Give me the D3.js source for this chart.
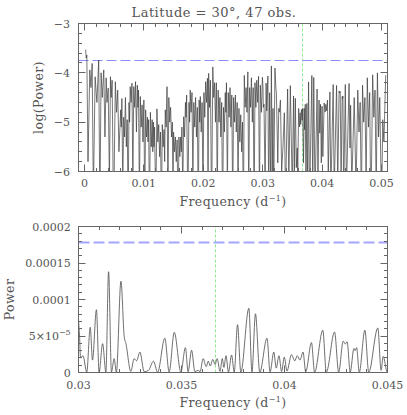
<!DOCTYPE html>
<html><head><meta charset="utf-8">
<script src="https://cdn.jsdelivr.net/npm/d3@7"></script>
<style>
body{margin:0;background:#fff}
text{font-family:"DejaVu Serif",serif;fill:#555}
</style>
</head><body>
<svg id="c" width="407" height="415"></svg>
<script>
// ---- data: [frequency (1/d), log10 power] read from the upper (log) panel, 0 - 0.03 d^-1
const lowBand = [
[0.0002,-3.53],[0.0003,-3.70],[0.0004,-3.64],[0.0006,-5.8],[0.0009,-3.94],[0.0011,-4.3],[0.0013,-3.81],[0.0015,-6.5],
[0.0018,-4.08],[0.0021,-4.6],[0.0024,-3.74],[0.0026,-6.8],[0.0028,-4.0],[0.0030,-4.5],[0.00325,-3.94],[0.00345,-5.3],
[0.00365,-4.1],[0.0038,-4.6],[0.0040,-4.31],[0.0042,-6.2],[0.00438,-4.08],[0.0045,-4.5],[0.00466,-4.15],[0.0049,-7.0],
[0.0052,-4.18],[0.0054,-4.8],[0.0056,-4.35],[0.0058,-5.6],[0.0061,-4.75],[0.0062,-5.1],[0.0063,-4.52],[0.00645,-6.4],
[0.0066,-4.9],[0.00675,-5.3],[0.0069,-4.5],[0.00705,-5.5],[0.0072,-4.95],[0.00735,-6.9],[0.0075,-4.6],[0.0076,-5.0],
[0.0077,-4.28],[0.00785,-4.6],[0.0080,-4.21],[0.00815,-6.3],[0.0083,-4.28],[0.00845,-4.7],[0.0086,-4.18],[0.00875,-5.2],
[0.0089,-4.25],[0.0090,-4.7],[0.0091,-4.35],[0.00925,-6.6],[0.0094,-4.48],[0.00955,-5.1],[0.0097,-4.65],[0.00985,-5.4],
[0.0100,-4.55],[0.01015,-6.8],[0.0103,-4.75],[0.01045,-5.3],[0.0106,-4.9],[0.0107,-5.4],[0.0108,-4.95],[0.01095,-7.0],
[0.0111,-4.8],[0.01125,-5.5],[0.0114,-4.95],[0.0115,-5.6],[0.0116,-5.0],[0.0117,-5.5],[0.0118,-5.1],[0.0120,-6.7],
[0.0122,-4.73],[0.01235,-5.4],[0.0125,-5.05],[0.01265,-5.7],[0.0128,-5.2],[0.01295,-6.9],[0.0131,-5.05],[0.01325,-5.5],
[0.0134,-5.15],[0.0135,-5.8],[0.0136,-4.75],[0.01375,-5.1],[0.0139,-4.28],[0.01405,-6.5],[0.0142,-4.5],[0.01435,-5.0],
[0.0145,-4.7],[0.01465,-5.3],[0.0148,-5.0],[0.0149,-6.6],[0.0150,-5.2],[0.01515,-5.6],[0.0153,-5.3],[0.01545,-5.8],
[0.0156,-5.36],[0.01575,-7.1],[0.0159,-5.3],[0.01605,-5.7],[0.0162,-5.3],[0.0163,-5.6],[0.0164,-5.1],[0.01655,-6.4],
[0.0167,-4.89],[0.01685,-5.3],[0.0170,-4.6],[0.0171,-4.9],[0.0172,-4.45],[0.0174,-6.8],[0.0176,-4.6],[0.0177,-5.0],
[0.0178,-4.35],[0.01795,-4.8],[0.0181,-4.4],[0.01825,-6.2],[0.0184,-4.6],[0.01855,-5.1],[0.0187,-4.5],[0.01885,-5.3],
[0.0190,-4.7],[0.01915,-7.0],[0.0193,-4.55],[0.0194,-5.0],[0.0195,-4.48],[0.01965,-5.2],[0.0198,-4.6],[0.01995,-6.5],
[0.0201,-4.4],[0.02025,-4.9],[0.0204,-4.18],[0.02055,-4.6],[0.0207,-4.11],[0.0208,-6.3],[0.0209,-4.01],[0.02105,-4.7],
[0.0212,-4.15],[0.0214,-6.9],[0.0216,-3.88],[0.02175,-4.5],[0.0219,-4.2],[0.02205,-5.0],[0.0222,-4.2],[0.02235,-6.6],
[0.0225,-4.35],[0.02265,-5.0],[0.0228,-4.5],[0.02295,-5.3],[0.0231,-4.6],[0.02325,-7.2],[0.0234,-4.7],[0.02355,-5.2],
[0.0237,-4.4],[0.0238,-4.8],[0.0239,-4.2],[0.02405,-6.4],[0.0242,-4.4],[0.02435,-4.9],[0.0245,-4.3],[0.02465,-5.1],
[0.0248,-4.45],[0.02495,-6.8],[0.0251,-4.5],[0.02525,-5.0],[0.0254,-4.45],[0.02555,-5.2],[0.0257,-4.6],[0.02585,-6.3],
[0.0260,-4.72],[0.02615,-5.4],[0.0263,-4.85],[0.02645,-5.6],[0.0266,-5.0],[0.02675,-7.0],[0.0269,-4.05],[0.02705,-4.7],
[0.0272,-4.3],[0.02735,-4.8],[0.0275,-3.98],[0.02765,-6.6],[0.0278,-4.3],[0.02795,-4.7],[0.0281,-4.1],[0.02825,-5.0],
[0.0284,-4.3],[0.02855,-6.9],[0.0287,-4.2],[0.02885,-4.7],[0.0290,-4.15],[0.02915,-4.6],[0.0293,-4.07],[0.02945,-6.5],
[0.0296,-4.25],[0.02978,-4.8],[0.02995,-4.09]
];
// ---- data: [frequency, power] read from the lower (linear) panel, 0.03 - 0.045 d^-1
const midBand = [
[0.03005,5.0e-5],[0.0301,2.0e-5],[0.03022,2.3e-5],[0.0304,4e-7],[0.03057,6.2e-5],[0.03068,1.7e-5],[0.03087,8.6e-5],
[0.0310,3e-7],[0.03117,3.95e-5],[0.03133,5e-7],[0.03146,1.38e-4],[0.0316,8e-7],[0.03173,1.9e-5],[0.03184,2e-7],
[0.03206,1.25e-4],[0.03222,4.9e-5],[0.0323,4.0e-5],[0.03254,1.5e-6],[0.0327,1.9e-5],[0.03282,1.6e-5],[0.03298,2.8e-5],
[0.03319,1e-6],[0.0334,3e-6],[0.03364,1.55e-5],[0.03384,3e-7],[0.03419,4.7e-5],[0.0344,6e-7],[0.03465,5.5e-5],
[0.03497,4e-7],[0.03519,3.4e-5],[0.03532,1e-6],[0.03549,3.05e-5],[0.03565,1.2e-6],[0.03581,3e-6],[0.0359,1e-6],
[0.03605,1.9e-5],[0.0362,8e-6],[0.0363,1.55e-5],[0.0364,9e-6],[0.03652,1.8e-5],[0.03663,1.1e-5],[0.03673,1.9e-5],
[0.03687,1.5e-6],[0.03698,1.9e-5],[0.03706,7e-6],[0.03716,2.3e-5],[0.03728,5e-7],[0.03743,2.4e-5],[0.03756,6e-7],
[0.03772,6.55e-5],[0.03788,2e-7],[0.03827,8.8e-5],[0.03842,4e-7],[0.03859,8.05e-5],[0.0388,3e-7],[0.03915,4.7e-5],
[0.0393,8e-7],[0.03948,2.8e-5],[0.0396,6e-6],[0.03973,2.3e-5],[0.03986,1.5e-6],[0.03999,2.1e-5],[0.04012,2e-6],
[0.04034,2.45e-5],[0.0405,1.6e-5],[0.04062,2.3e-5],[0.04075,1.7e-5],[0.0409,2.8e-5],[0.04103,8e-7],[0.04131,4.1e-5],
[0.04146,3e-7],[0.04186,5.8e-5],[0.04203,4e-7],[0.04243,5.55e-5],[0.04263,5e-7],[0.04285,4.3e-5],[0.04295,3.9e-5],
[0.04304,4.2e-5],[0.04319,6e-7],[0.04337,3.3e-5],[0.04343,3.0e-5],[0.0435,3.4e-5],[0.04363,3e-7],[0.0439,5.8e-5],
[0.04409,4e-7],[0.04453,6.1e-5],[0.04469,3e-6],[0.04479,2.2e-5],[0.04499,5e-7]
];
// ---- data: [frequency, log10 power], 0.045 - 0.051 d^-1
const highBand = [
[0.0454,-4.5],[0.0457,-6.4],[0.0460,-4.35],[0.0462,-5.2],[0.0464,-4.6],[0.0466,-6.7],[0.0468,-4.25],[0.0470,-5.0],
[0.0472,-4.5],[0.0474,-6.2],[0.0476,-4.1],[0.0478,-5.1],[0.0480,-4.4],[0.0482,-7.0],[0.0485,-4.04],[0.0487,-4.9],
[0.0489,-4.35],[0.0491,-6.5],[0.0493,-4.0],[0.0495,-5.3],[0.0497,-4.5],[0.0500,-6.8],[0.0502,-4.95],[0.0504,-5.4],
[0.0507,-4.05]
];
const falseAlarmPower = 1.78e-4;   // blue dashed level
const rotationFreq = 0.03666;      // green dashed line
const title = "Latitude = 30\u00b0, 47 obs.";
const topXTicks = [0,0.01,0.02,0.03,0.04,0.05];
const topXLabels = ["0","0.01","0.02","0.03","0.04","0.05"];
const topYTicks = [-3,-4,-5,-6];
const topYLabels = ["\u22123","\u22124","\u22125","\u22126"];
const botXTicks = [0.03,0.035,0.04,0.045];
const botXLabels = ["0.03","0.035","0.04","0.045"];
const botYTicks = [0,5e-5,1e-4,1.5e-4,2e-4];
const botYLabels = ["0","5\u00d710|\u22125","0.0001","0.00015","0.0002"];

const series = [
  ...lowBand.map(([f,L]) => ({f, p: Math.pow(10, L)})),
  ...midBand.map(([f,p]) => ({f, p})),
  ...highBand.map(([f,L]) => ({f, p: Math.pow(10, L)}))
];

const svg = d3.select("#c");
const L0 = 78.5, R0 = 387.5;
const topP = {x: d3.scaleLinear([-0.001,0.051],[L0,R0]), y: d3.scaleLinear([-6,-3],[171.5,23.5])};
const botP = {x: d3.scaleLinear([0.03,0.045],[L0,R0]), y: d3.scaleLinear([0,2e-4],[372.5,226.5])};
const snap = v => Math.round(v - 0.5) + 0.5;

const defs = svg.append("defs");
function clip(id, s){
  defs.append("clipPath").attr("id",id).append("rect")
    .attr("x",s.x.range()[0]).attr("y",s.y.range()[1])
    .attr("width",s.x.range()[1]-s.x.range()[0]).attr("height",s.y.range()[0]-s.y.range()[1]);
}
clip("ct",topP); clip("cb",botP);

function frame(s, xMaj, xMin, yMaj, yMin){
  const g = svg.append("g").attr("stroke","#666").attr("stroke-width",1).attr("fill","none");
  const [x0,x1] = s.x.range(), [y1,y0] = s.y.range();
  const M = 7, m = 3.5;
  xMin.forEach(v=>{const X=snap(s.x(v)); const l=xMaj.some(t=>Math.abs(t-v)<1e-9)?M:m;
    g.append("line").attr("x1",X).attr("x2",X).attr("y1",y1).attr("y2",y1-l);
    g.append("line").attr("x1",X).attr("x2",X).attr("y1",y0).attr("y2",y0+l);});
  yMin.forEach(v=>{const Y=snap(s.y(v)); const l=yMaj.some(t=>Math.abs(t-v)<1e-12)?M:m;
    g.append("line").attr("x1",x0).attr("x2",x0+l).attr("y1",Y).attr("y2",Y);
    g.append("line").attr("x1",x1).attr("x2",x1-l).attr("y1",Y).attr("y2",Y);});
  g.append("rect").attr("x",x0).attr("y",y0).attr("width",x1-x0).attr("height",y1-y0);
}

// --- top panel
const tg = svg.append("g").attr("clip-path","url(#ct)");
tg.append("line").attr("x1",snap(topP.x(rotationFreq))).attr("x2",snap(topP.x(rotationFreq)))
  .attr("y1",topP.y(-6)).attr("y2",topP.y(-3)).attr("stroke","#8ee88e").attr("stroke-width",1).attr("stroke-dasharray","3,2");
tg.append("line").attr("x1",L0).attr("x2",R0)
  .attr("y1",snap(topP.y(Math.log10(falseAlarmPower)))).attr("y2",snap(topP.y(Math.log10(falseAlarmPower))))
  .attr("stroke","#8c8cff").attr("stroke-width",1).attr("stroke-dasharray","10,4");
tg.append("path").datum(series)
  .attr("d", d3.line().x(d=>topP.x(d.f)).y(d=>topP.y(Math.log10(d.p))))
  .attr("fill","none").attr("stroke","#3c3c3c").attr("stroke-width",0.7);
frame(topP, topXTicks, d3.range(0,0.0501,0.002), topYTicks, d3.range(-6,-2.99,0.2));

// --- bottom panel
const bg = svg.append("g").attr("clip-path","url(#cb)");
bg.append("line").attr("x1",snap(botP.x(rotationFreq))).attr("x2",snap(botP.x(rotationFreq)))
  .attr("y1",botP.y(0)).attr("y2",botP.y(2e-4)).attr("stroke","#8ee88e").attr("stroke-width",1).attr("stroke-dasharray","3,2");
bg.append("line").attr("x1",L0).attr("x2",R0)
  .attr("y1",botP.y(falseAlarmPower)).attr("y2",botP.y(falseAlarmPower))
  .attr("stroke","#a6a6ff").attr("stroke-width",2).attr("stroke-dasharray","11,4");
bg.append("path").datum(series.filter(d=>d.f>0.0294 && d.f<0.0456))
  .attr("d", d3.line().curve(d3.curveMonotoneX).x(d=>botP.x(d.f)).y(d=>botP.y(d.p)))
  .attr("fill","none").attr("stroke","#555").attr("stroke-width",0.85);
frame(botP, botXTicks, d3.range(0.03,0.04501,0.001), botYTicks, d3.range(0,2.00001e-4,1e-5));

// --- text
const fs = 11;
svg.append("text").attr("x",214).attr("y",17).attr("text-anchor","middle").attr("font-size",13).attr("letter-spacing",0.5).text(title);
topXTicks.forEach((v,i)=>svg.append("text").attr("x",topP.x(v)).attr("y",187).attr("text-anchor","middle").attr("font-size",fs).text(topXLabels[i]));
topYTicks.forEach((v,i)=>svg.append("text").attr("x",70).attr("y",topP.y(v)+4).attr("text-anchor","end").attr("font-size",fs).text(topYLabels[i]));
botXTicks.forEach((v,i)=>svg.append("text").attr("x",botP.x(v)).attr("y",389).attr("text-anchor","middle").attr("font-size",fs).text(botXLabels[i]));
botYTicks.forEach((v,i)=>{
  const t = svg.append("text").attr("x",70.7).attr("y",botP.y(v)+4).attr("text-anchor","end").attr("font-size",fs);
  const parts = botYLabels[i].split("|");
  t.append("tspan").text(parts[0]);
  if(parts[1]) t.append("tspan").attr("dy",-5).attr("font-size",8).text(parts[1]);
});
function freqLabel(x,y){
  const t = svg.append("text").attr("x",x).attr("y",y).attr("text-anchor","middle").attr("font-size",12.5).attr("letter-spacing",0.4);
  t.append("tspan").text("Frequency (d");
  t.append("tspan").attr("dy",-5).attr("font-size",8).text("\u22121");
  t.append("tspan").attr("dy",5).text(")");
}
freqLabel((L0+R0)/2, 206);
freqLabel((L0+R0)/2, 407);
svg.append("text").attr("transform",`translate(43,${(23.5+171.5)/2}) rotate(-90)`).attr("text-anchor","middle").attr("font-size",12.5).attr("letter-spacing",0.4).text("log(Power)");
svg.append("text").attr("transform",`translate(14,${(226.5+372.5)/2}) rotate(-90)`).attr("text-anchor","middle").attr("font-size",12.5).attr("letter-spacing",0.4).text("Power");
</script>
</body></html>
